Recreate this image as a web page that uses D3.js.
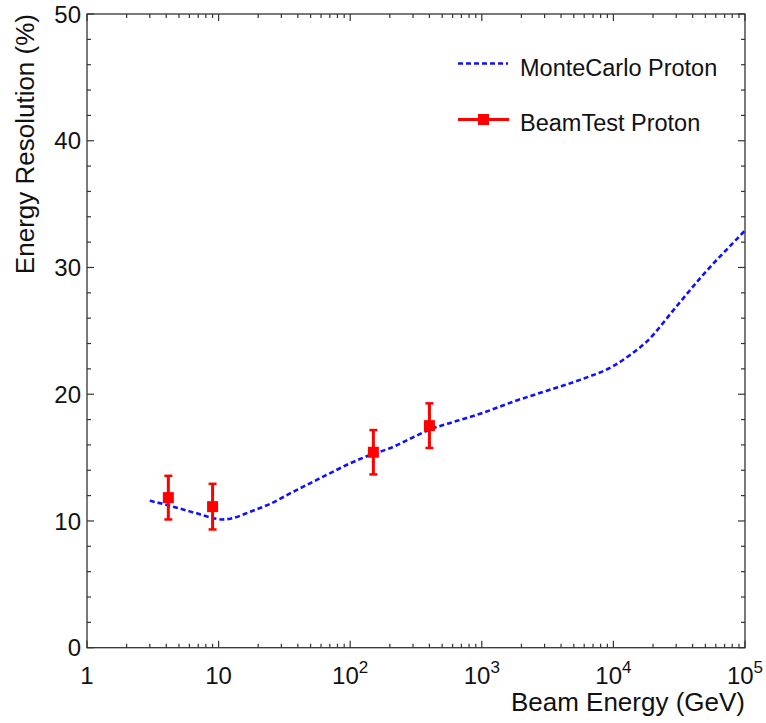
<!DOCTYPE html>
<html><head><meta charset="utf-8">
<script src="https://cdn.jsdelivr.net/npm/d3@7"></script>
<style>body{margin:0;background:#fff} text{font-family:"Liberation Sans",Arial,sans-serif;fill:#111}</style>
</head><body><svg id="c" width="766" height="723"></svg>
<script>
const mcEnergy = [3, 4.5, 6.8, 9.1, 10.5, 12.3, 17.4, 24.5, 37, 49.5, 70, 100, 141, 200, 300, 400, 650, 1000, 1740, 3090, 5570, 10000, 13400, 17900, 30000, 48000, 95500, 100000];
const mcResolution = [11.6, 11.13, 10.6, 10.22, 10.12, 10.18, 10.73, 11.34, 12.31, 12.97, 13.76, 14.55, 15.2, 15.74, 16.6, 17.2, 17.9, 18.5, 19.42, 20.26, 21.13, 22.23, 23.1, 24.15, 26.9, 29.42, 32.7, 32.92];
const btEnergy = [4.15, 9, 150, 400];
const btResolution = [11.84, 11.13, 15.42, 17.52];
const btError = [1.72, 1.8, 1.75, 1.76];
const xTickExponents = [0, 1, 2, 3, 4, 5];
const yTicks = [0, 10, 20, 30, 40, 50];
const legendLabels = ["MonteCarlo Proton", "BeamTest Proton"];
const xTitle = "Beam Energy (GeV)";
const yTitle = "Energy Resolution (%)";

const L = 87, R = 745, T = 14, B = 647.7;
const svg = d3.select("#c");
const x = d3.scaleLog().domain([1, 1e5]).range([L, R]);
const y = d3.scaleLinear().domain([0, 50]).range([B, T]);

const frameColor = "#333";
// frame
svg.append("rect").attr("x", L).attr("y", T).attr("width", R - L).attr("height", B - T)
  .attr("fill", "none").attr("stroke", frameColor).attr("stroke-width", 1.3);

// ticks
const g = svg.append("g").attr("stroke", frameColor).attr("stroke-width", 1.2);
const yMinor = d3.range(0, 50.01, 2);
yMinor.forEach(v => {
  const major = v % 10 === 0;
  const len = major ? 7 : 4;
  g.append("line").attr("x1", L).attr("x2", L + len).attr("y1", y(v)).attr("y2", y(v));
  g.append("line").attr("x1", R).attr("x2", R - len).attr("y1", y(v)).attr("y2", y(v));
});
xTickExponents.forEach(e => {
  if (e < 5) {
    for (let m = 2; m <= 9; m++) {
      const v = m * Math.pow(10, e);
      g.append("line").attr("x1", x(v)).attr("x2", x(v)).attr("y1", B).attr("y2", B - 4);
      g.append("line").attr("x1", x(v)).attr("x2", x(v)).attr("y1", T).attr("y2", T + 4);
    }
  }
  const v = Math.pow(10, e);
  g.append("line").attr("x1", x(v)).attr("x2", x(v)).attr("y1", B).attr("y2", B - 7);
  g.append("line").attr("x1", x(v)).attr("x2", x(v)).attr("y1", T).attr("y2", T + 7);
});

// y tick labels
yTicks.forEach(v => {
  svg.append("text").attr("x", L - 6).attr("y", y(v)).attr("dy", "0.36em")
    .attr("text-anchor", "end").attr("font-size", 24).text(v);
});
// x tick labels
xTickExponents.forEach(e => {
  const t = svg.append("text").attr("x", x(Math.pow(10, e))).attr("y", 684)
    .attr("text-anchor", "middle").attr("font-size", 24);
  if (e === 0) t.text("1");
  else if (e === 1) t.text("10");
  else {
    t.append("tspan").text("10");
    t.append("tspan").attr("dy", -11).attr("font-size", 17).text(e);
  }
});

// titles
svg.append("text").attr("x", R).attr("y", 711).attr("text-anchor", "end").attr("font-size", 26).text(xTitle);
svg.append("text").attr("transform", `translate(33.5,${T}) rotate(-90)`).attr("text-anchor", "end")
  .attr("font-size", 26).text(yTitle);

// MC curve
const mc = mcEnergy.map((e, i) => [e, mcResolution[i]]);
const line = d3.line().x(d => x(d[0])).y(d => y(d[1])).curve(d3.curveMonotoneX);
const blue = "#1010ff";
svg.append("path").attr("d", line(mc)).attr("fill", "none").attr("stroke", blue)
  .attr("stroke-width", 2.6).attr("stroke-dasharray", "5,3");

// beam test
const red = "#ff0000";
const bt = svg.append("g");
btEnergy.forEach((e, i) => {
  const cx = x(e), v = btResolution[i], er = btError[i];
  bt.append("line").attr("x1", cx).attr("x2", cx).attr("y1", y(v - er)).attr("y2", y(v + er))
    .attr("stroke", red).attr("stroke-width", 3);
  [v - er, v + er].forEach(w => bt.append("line").attr("x1", cx - 4).attr("x2", cx + 4)
    .attr("y1", y(w)).attr("y2", y(w)).attr("stroke", red).attr("stroke-width", 2.5));
  bt.append("rect").attr("x", cx - 5.5).attr("y", y(v) - 5.5).attr("width", 11).attr("height", 11).attr("fill", red);
});

// legend
const lg = svg.append("g");
lg.append("line").attr("x1", 458).attr("x2", 508).attr("y1", 63.5).attr("y2", 63.5)
  .attr("stroke", blue).attr("stroke-width", 2.6).attr("stroke-dasharray", "5,3");
lg.append("text").attr("x", 520).attr("y", 76).attr("font-size", 23.5).text(legendLabels[0]);
lg.append("line").attr("x1", 458).attr("x2", 509).attr("y1", 119.5).attr("y2", 119.5)
  .attr("stroke", red).attr("stroke-width", 3);
lg.append("rect").attr("x", 478).attr("y", 114).attr("width", 11).attr("height", 11).attr("fill", red);
lg.append("text").attr("x", 520).attr("y", 131).attr("font-size", 23.5).text(legendLabels[1]);
</script></body></html>
